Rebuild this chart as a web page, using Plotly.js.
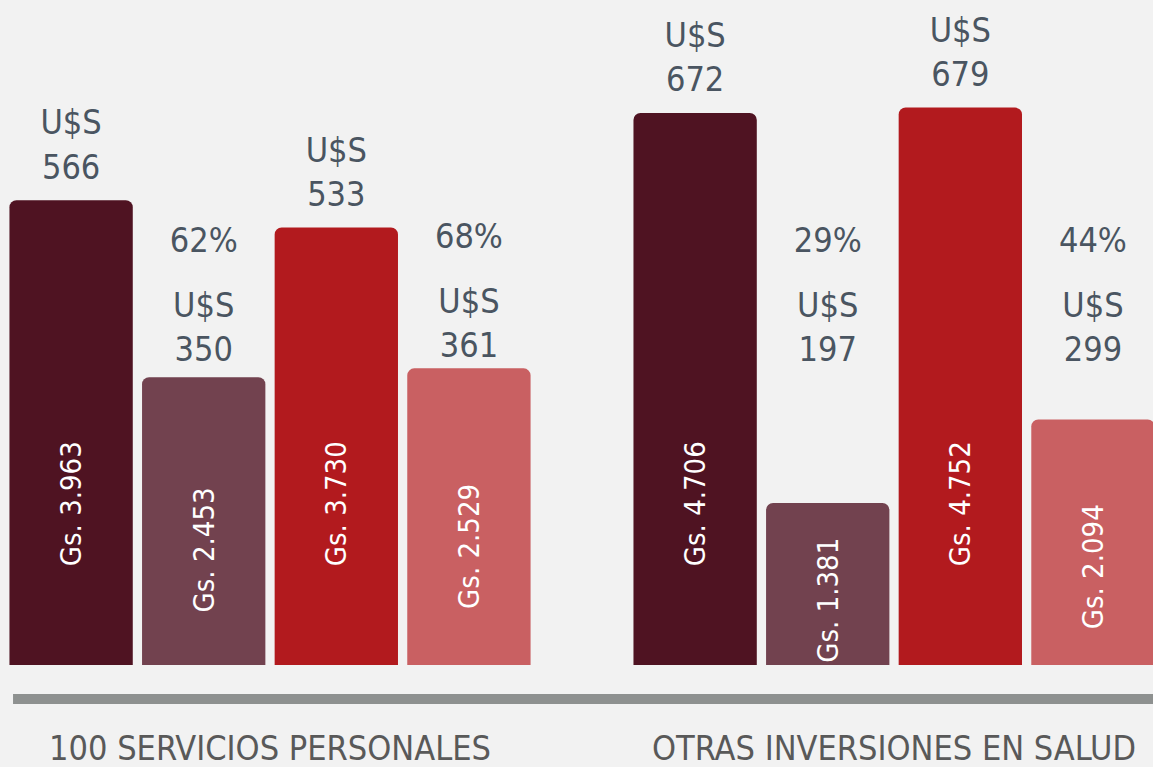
<!DOCTYPE html>
<html><head><meta charset="utf-8">
<script src="https://cdn.plot.ly/plotly-3.0.1.min.js"></script>
<style>html,body{margin:0;padding:0;background:#f2f2f2;}#chart{width:1153px;height:767px;}</style>
</head><body><div id="chart"></div>
<script>
// ---- data ----
const categories = ['100 SERVICIOS PERSONALES', 'OTRAS INVERSIONES EN SALUD'];
const gsSeries1 = [3963, 4706];
const gsSeries2 = [2453, 1381];
const gsSeries3 = [3730, 4752];
const gsSeries4 = [2529, 2094];
const usdSeries1 = [566, 672];
const usdSeries2 = [350, 197];
const usdSeries3 = [533, 679];
const usdSeries4 = [361, 299];
const pctSeries2 = ['62%', '29%'];
const pctSeries4 = ['68%', '44%'];

// ---- style ----
const colors = ['#4f1322', '#72424f', '#b21a1e', '#c96062'];
const NARROW = '"DejaVu Sans Condensed", "DejaVu Sans", sans-serif';
const LABEL_COLOR = '#4a5561';
const LABEL_FLOOR = 2500;   // label row level for the smaller bars
const LABEL_LIFT = 90;      // extra gap above the tall bars
const PCT_OFFSET = 930;     // percent label lifted above the U$S label
const INNER_FRAC = 0.8, INNER_CAP = 2750; // where the vertical Gs. text is centred
const RADIUS = 7;

function fmt(v){ return String(v).replace(/\B(?=(\d{3})+(?!\d))/g, '.'); }

const gs = [gsSeries1, gsSeries2, gsSeries3, gsSeries4];
const usd = [usdSeries1, usdSeries2, usdSeries3, usdSeries4];
const pct = [null, pctSeries2, null, pctSeries4];

const clear = 'rgba(0,0,0,0)';
const common = {type: 'bar', x: categories, hoverinfo: 'skip', showlegend: false, constraintext: 'none'};
const traces = [];
// visible bars
gs.forEach((vals, i) => {
  traces.push(Object.assign({}, common, {
    offsetgroup: String(i), y: vals,
    marker: {color: colors[i], cornerradius: RADIUS, line: {width: 0}}
  }));
});
// text carriers (transparent), on an overlaid twin x axis
gs.forEach((vals, i) => {
  const g = String(i);
  traces.push(Object.assign({}, common, {
    xaxis: 'x2', offsetgroup: g, y: vals.map(v => Math.min(v * INNER_FRAC, INNER_CAP)),
    marker: {color: clear}, cliponaxis: false,
    text: vals.map(v => 'Gs. ' + fmt(v)),
    textposition: 'inside', insidetextanchor: 'middle', textangle: -90,
    textfont: {family: NARROW, size: 29, color: '#ffffff', stretch: 'condensed'}
  }));
  const small = (pct[i] !== null);
  const ly = vals.map(v => small ? Math.max(v, LABEL_FLOOR) : v + LABEL_LIFT);
  traces.push(Object.assign({}, common, {
    xaxis: 'x2', offsetgroup: g, y: ly, marker: {color: clear}, cliponaxis: false,
    text: usd[i].map(u => 'U$S<br>' + u),
    textposition: 'outside',
    textfont: {family: NARROW, size: 34, color: LABEL_COLOR, stretch: 'condensed'}
  }));
  if (small) {
    traces.push(Object.assign({}, common, {
      xaxis: 'x2', offsetgroup: g, y: ly.map(v => v + PCT_OFFSET), marker: {color: clear}, cliponaxis: false,
      text: pct[i],
      textposition: 'outside',
      textfont: {family: NARROW, size: 34, color: LABEL_COLOR, stretch: 'condensed'}
    }));
  }
});

const xRange = [-0.4327, 1.415];
const layout = {
  width: 1153, height: 767,
  paper_bgcolor: '#f2f2f2', plot_bgcolor: '#f2f2f2',
  margin: {l: 0, r: 0, t: 0, b: 73},
  barmode: 'group', bargap: 0.15, bargroupgap: 0.07,
  showlegend: false,
  xaxis: {
    type: 'category', range: xRange,
    showline: false, showgrid: false, zeroline: false, ticks: '', ticklabelstandoff: 31,
    tickfont: {family: NARROW, size: 34, color: '#595959', stretch: 'condensed'}
  },
  xaxis2: {type: 'category', range: xRange, overlaying: 'x', visible: false, showgrid: false, zeroline: false},
  yaxis: {range: [-247, 5669], visible: false, showgrid: false, zeroline: false},
  shapes: [{
    type: 'line', xref: 'paper', yref: 'paper', x0: 0.0113, x1: 1, y0: -0.0072, y1: -0.0072,
    line: {color: '#8e9190', width: 10}
  }],
  font: {family: NARROW}
};

Plotly.newPlot('chart', traces, layout, {displayModeBar: false, staticPlot: true});
</script></body></html>
